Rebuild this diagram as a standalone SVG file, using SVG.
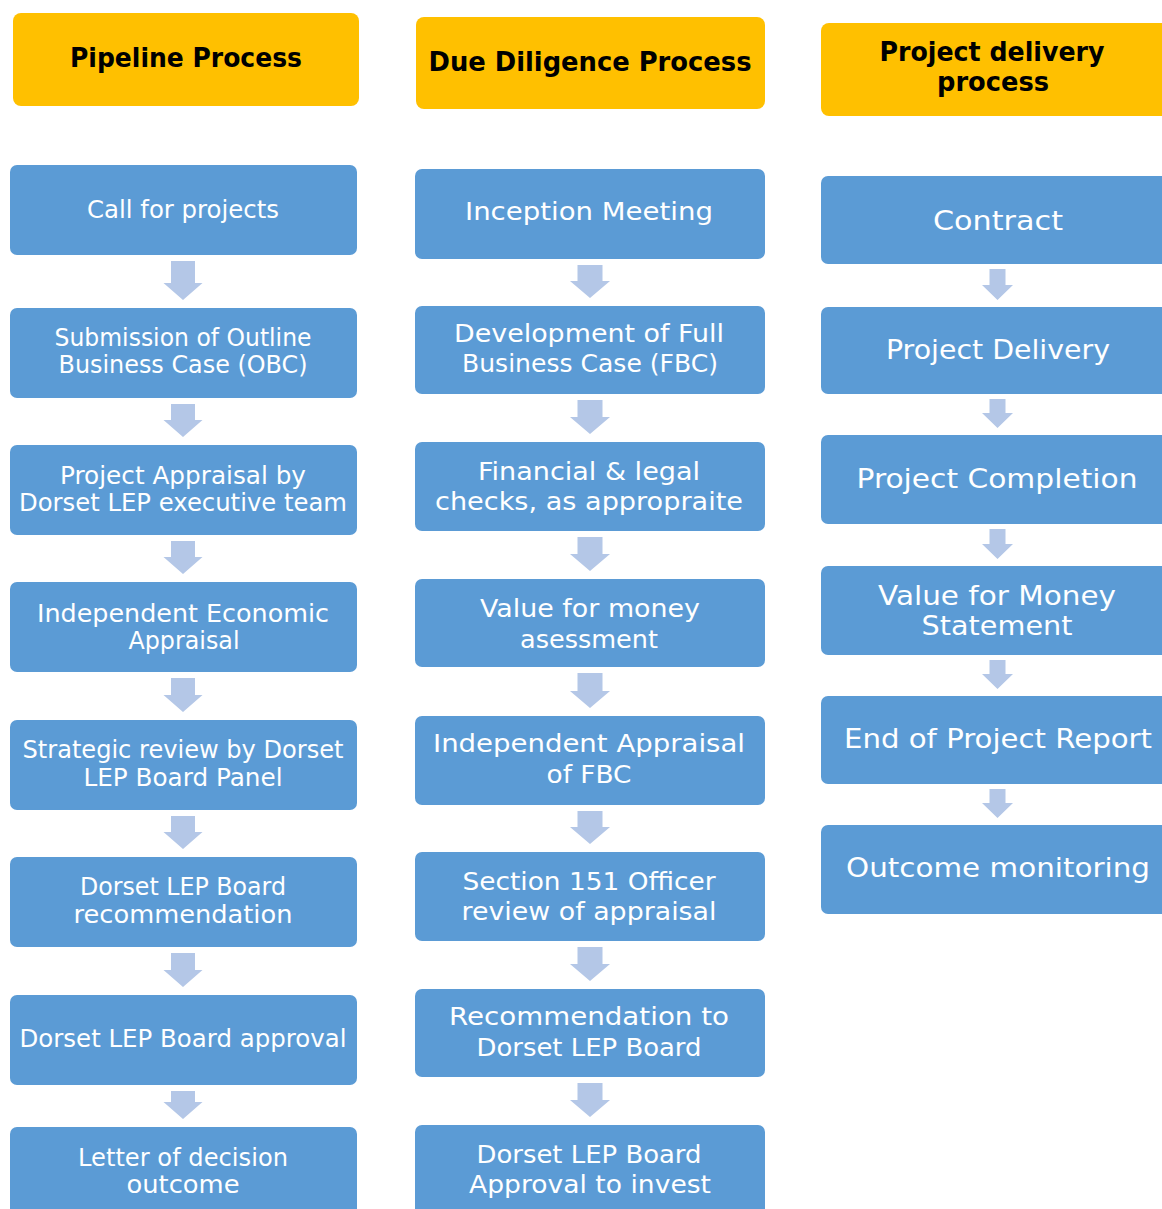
<svg xmlns="http://www.w3.org/2000/svg" width="1162" height="1209" viewBox="0 0 1162 1209">
<style>
.hdr{fill:#FFC000}
.box{fill:#5B9BD5}
.arr{fill:#B4C7E7}
.ht{font-family:"DejaVu Sans","Liberation Sans",sans-serif;font-weight:bold;font-size:26px;fill:#000;text-anchor:middle}
.t{font-family:"DejaVu Sans","Liberation Sans",sans-serif;fill:#fff;text-anchor:middle}
.c1{font-size:24px}
.c2{font-size:25px}
.c3{font-size:27px}
</style>
<rect width="1162" height="1209" fill="#fff"/>
<g id="header-pipeline"><rect class="hdr" x="13" y="13" width="346" height="93" rx="8"/><text class="ht" x="186" y="67" textLength="232" lengthAdjust="spacingAndGlyphs">Pipeline Process</text></g>
<g id="header-duediligence"><rect class="hdr" x="416" y="17" width="349" height="92" rx="8"/><text class="ht" x="590" y="71" textLength="323" lengthAdjust="spacingAndGlyphs">Due Diligence Process</text></g>
<g id="header-delivery"><rect class="hdr" x="821" y="23" width="352" height="93" rx="8"/><text class="ht" x="992" y="61" textLength="225" lengthAdjust="spacingAndGlyphs">Project delivery</text><text class="ht" x="993" y="91" textLength="112" lengthAdjust="spacingAndGlyphs">process</text></g>

<g id="connectors">
<path class="arr" d="M171 261H195V283H202.5L183 300L163.5 283H171Z"/>
<path class="arr" d="M171 404H195V420H202.5L183 437L163.5 420H171Z"/>
<path class="arr" d="M171 541H195V557H202.5L183 574L163.5 557H171Z"/>
<path class="arr" d="M171 678H195V695H202.5L183 712L163.5 695H171Z"/>
<path class="arr" d="M171 816H195V832H202.5L183 849L163.5 832H171Z"/>
<path class="arr" d="M171 953H195V970H202.5L183 987L163.5 970H171Z"/>
<path class="arr" d="M171 1091H195V1102H202.5L183 1119L163.5 1102H171Z"/>

<path class="arr" d="M577.5 265H602.5V281H610L590 298L570 281H577.5Z"/>
<path class="arr" d="M577.5 400H602.5V417H610L590 434L570 417H577.5Z"/>
<path class="arr" d="M577.5 537H602.5V554H610L590 571L570 554H577.5Z"/>
<path class="arr" d="M577.5 673H602.5V691H610L590 708L570 691H577.5Z"/>
<path class="arr" d="M577.5 811H602.5V827H610L590 844L570 827H577.5Z"/>
<path class="arr" d="M577.5 947H602.5V964H610L590 981L570 964H577.5Z"/>
<path class="arr" d="M577.5 1083H602.5V1100H610L590 1117L570 1100H577.5Z"/>

<path class="arr" d="M989.5 269H1005.5V285H1013L997.5 300L982 285H989.5Z"/>
<path class="arr" d="M989.5 399H1005.5V413H1013L997.5 428L982 413H989.5Z"/>
<path class="arr" d="M989.5 529H1005.5V544H1013L997.5 559L982 544H989.5Z"/>
<path class="arr" d="M989.5 660H1005.5V674H1013L997.5 689L982 674H989.5Z"/>
<path class="arr" d="M989.5 789H1005.5V803H1013L997.5 818L982 803H989.5Z"/>
</g>

<g id="p1"><rect class="box" x="10" y="165" width="347" height="90" rx="7"/><text class="t c1" x="183" y="218" textLength="192" lengthAdjust="spacingAndGlyphs">Call for projects</text></g>
<g id="p2"><rect class="box" x="10" y="308" width="347" height="90" rx="7"/><text class="t c1" x="183" y="346" textLength="257" lengthAdjust="spacingAndGlyphs">Submission of Outline</text><text class="t c1" x="183" y="373" textLength="249" lengthAdjust="spacingAndGlyphs">Business Case (OBC)</text></g>
<g id="p3"><rect class="box" x="10" y="445" width="347" height="90" rx="7"/><text class="t c1" x="183" y="484" textLength="246" lengthAdjust="spacingAndGlyphs">Project Appraisal by</text><text class="t c1" x="183" y="511" textLength="328" lengthAdjust="spacingAndGlyphs">Dorset LEP executive team</text></g>
<g id="p4"><rect class="box" x="10" y="582" width="347" height="90" rx="7"/><text class="t c1" x="183" y="622" textLength="292" lengthAdjust="spacingAndGlyphs">Independent Economic</text><text class="t c1" x="184" y="649" textLength="111" lengthAdjust="spacingAndGlyphs">Appraisal</text></g>
<g id="p5"><rect class="box" x="10" y="720" width="347" height="90" rx="7"/><text class="t c1" x="183" y="758" textLength="321" lengthAdjust="spacingAndGlyphs">Strategic review by Dorset</text><text class="t c1" x="183" y="786" textLength="199" lengthAdjust="spacingAndGlyphs">LEP Board Panel</text></g>
<g id="p6"><rect class="box" x="10" y="857" width="347" height="90" rx="7"/><text class="t c1" x="183" y="895" textLength="206" lengthAdjust="spacingAndGlyphs">Dorset LEP Board</text><text class="t c1" x="183" y="923" textLength="219" lengthAdjust="spacingAndGlyphs">recommendation</text></g>
<g id="p7"><rect class="box" x="10" y="995" width="347" height="90" rx="7"/><text class="t c1" x="183" y="1047" textLength="327" lengthAdjust="spacingAndGlyphs">Dorset LEP Board approval</text></g>
<g id="p8"><rect class="box" x="10" y="1127" width="347" height="95" rx="7"/><text class="t c1" x="183" y="1166" textLength="210" lengthAdjust="spacingAndGlyphs">Letter of decision</text><text class="t c1" x="183" y="1193" textLength="113" lengthAdjust="spacingAndGlyphs">outcome</text></g>

<g id="d1"><rect class="box" x="415" y="169" width="350" height="90" rx="7"/><text class="t c2" x="589" y="220" textLength="248" lengthAdjust="spacingAndGlyphs">Inception Meeting</text></g>
<g id="d2"><rect class="box" x="415" y="306" width="350" height="88" rx="7"/><text class="t c2" x="589" y="342" textLength="270" lengthAdjust="spacingAndGlyphs">Development of Full</text><text class="t c2" x="590" y="372" textLength="256" lengthAdjust="spacingAndGlyphs">Business Case (FBC)</text></g>
<g id="d3"><rect class="box" x="415" y="442" width="350" height="89" rx="7"/><text class="t c2" x="589" y="480" textLength="222" lengthAdjust="spacingAndGlyphs">Financial &amp; legal</text><text class="t c2" x="589" y="510" textLength="308" lengthAdjust="spacingAndGlyphs">checks, as appropraite</text></g>
<g id="d4"><rect class="box" x="415" y="579" width="350" height="88" rx="7"/><text class="t c2" x="590" y="617" textLength="220" lengthAdjust="spacingAndGlyphs">Value for money</text><text class="t c2" x="589" y="648" textLength="138" lengthAdjust="spacingAndGlyphs">asessment</text></g>
<g id="d5"><rect class="box" x="415" y="716" width="350" height="89" rx="7"/><text class="t c2" x="589" y="752" textLength="312" lengthAdjust="spacingAndGlyphs">Independent Appraisal</text><text class="t c2" x="589" y="783" textLength="85" lengthAdjust="spacingAndGlyphs">of FBC</text></g>
<g id="d6"><rect class="box" x="415" y="852" width="350" height="89" rx="7"/><text class="t c2" x="589" y="890" textLength="253" lengthAdjust="spacingAndGlyphs">Section 151 Officer</text><text class="t c2" x="589" y="920" textLength="255" lengthAdjust="spacingAndGlyphs">review of appraisal</text></g>
<g id="d7"><rect class="box" x="415" y="989" width="350" height="88" rx="7"/><text class="t c2" x="589" y="1025" textLength="280" lengthAdjust="spacingAndGlyphs">Recommendation to</text><text class="t c2" x="589" y="1056" textLength="225" lengthAdjust="spacingAndGlyphs">Dorset LEP Board</text></g>
<g id="d8"><rect class="box" x="415" y="1125" width="350" height="95" rx="7"/><text class="t c2" x="589" y="1163" textLength="225" lengthAdjust="spacingAndGlyphs">Dorset LEP Board</text><text class="t c2" x="590" y="1193" textLength="242" lengthAdjust="spacingAndGlyphs">Approval to invest</text></g>

<g id="r1"><rect class="box" x="821" y="176" width="352" height="88" rx="7"/><text class="t c3" x="998" y="230" textLength="130" lengthAdjust="spacingAndGlyphs">Contract</text></g>
<g id="r2"><rect class="box" x="821" y="307" width="352" height="87" rx="7"/><text class="t c3" x="998" y="359" textLength="224" lengthAdjust="spacingAndGlyphs">Project Delivery</text></g>
<g id="r3"><rect class="box" x="821" y="435" width="352" height="89" rx="7"/><text class="t c3" x="997" y="488" textLength="281" lengthAdjust="spacingAndGlyphs">Project Completion</text></g>
<g id="r4"><rect class="box" x="821" y="566" width="352" height="89" rx="7"/><text class="t c3" x="997" y="605" textLength="238" lengthAdjust="spacingAndGlyphs">Value for Money</text><text class="t c3" x="997" y="635" textLength="151" lengthAdjust="spacingAndGlyphs">Statement</text></g>
<g id="r5"><rect class="box" x="821" y="696" width="352" height="88" rx="7"/><text class="t c3" x="998" y="748" textLength="308" lengthAdjust="spacingAndGlyphs">End of Project Report</text></g>
<g id="r6"><rect class="box" x="821" y="825" width="352" height="89" rx="7"/><text class="t c3" x="998" y="877" textLength="304" lengthAdjust="spacingAndGlyphs">Outcome monitoring</text></g>
</svg>
